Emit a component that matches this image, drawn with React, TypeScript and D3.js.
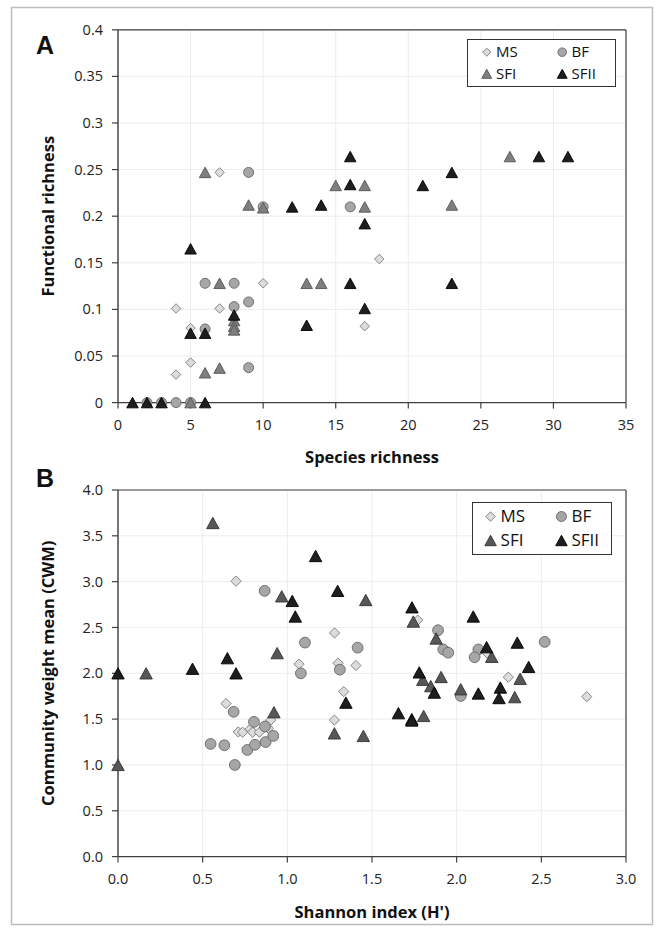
import React from "react";
import * as d3 from "d3";

// ---------- Panel A data (Species richness vs Functional richness) ----------
const msA_x = [4, 4, 5, 5, 5, 7, 7, 10, 17, 18];
const msA_y = [0.101, 0.030, 0.080, 0.043, 0, 0.247, 0.101, 0.128, 0.082, 0.154];

const bfA_x = [2, 3, 4, 5, 6, 6, 8, 8, 9, 9, 9, 10, 16];
const bfA_y = [0, 0, 0, 0, 0.079, 0.128, 0.128, 0.103, 0.108, 0.247, 0.0375, 0.21, 0.21];

const sfiA_x = [5, 6, 7, 6, 7, 8, 8, 8, 9, 10, 13, 14, 15, 17, 17, 23, 27];
const sfiA_y = [0, 0.032, 0.037, 0.247, 0.128, 0.088, 0.082, 0.078, 0.212, 0.209, 0.128, 0.128, 0.233, 0.233, 0.21, 0.212, 0.264];

const sfiiA_x = [1, 2, 3, 6, 5, 5, 6, 8, 12, 13, 14, 16, 16, 16, 17, 17, 21, 23, 23, 29, 31];
const sfiiA_y = [0, 0, 0, 0, 0.165, 0.0745, 0.0745, 0.094, 0.21, 0.083, 0.212, 0.264, 0.234, 0.128, 0.192, 0.101, 0.233, 0.247, 0.128, 0.264, 0.264];

// ---------- Panel B data (Shannon index vs CWM) ----------
const msB_x = [0.697, 1.279, 1.069, 1.30, 1.405, 1.333, 0.638, 0.902, 1.278, 0.71, 0.736, 0.78, 0.795, 0.835, 0.888, 1.77, 2.305, 2.768, 2.18];
const msB_y = [3.005, 2.44, 2.10, 2.11, 2.085, 1.80, 1.67, 1.49, 1.49, 1.36, 1.357, 1.39, 1.357, 1.357, 1.40, 2.58, 1.957, 1.745, 2.22];

const bfB_x = [0.866, 1.104, 1.415, 1.08, 1.31, 0.683, 0.803, 0.868, 0.547, 0.628, 0.764, 0.809, 0.872, 0.917, 0.69, 1.89, 1.921, 1.95, 2.128, 2.106, 2.52, 2.024];
const bfB_y = [2.90, 2.335, 2.28, 2.00, 2.04, 1.58, 1.47, 1.42, 1.23, 1.215, 1.164, 1.22, 1.25, 1.317, 1.0, 2.47, 2.26, 2.225, 2.26, 2.175, 2.343, 1.753];

const sfiB_x = [0.56, 0.967, 0.94, 0.166, 0, 0.921, 1.278, 1.449, 1.463, 1.744, 1.879, 2.207, 2.375, 2.343, 2.024, 1.80, 1.908, 1.847, 1.805];
const sfiB_y = [3.64, 2.84, 2.22, 2.0, 1.0, 1.575, 1.345, 1.317, 2.80, 2.565, 2.38, 2.18, 1.94, 1.74, 1.826, 1.93, 1.96, 1.86, 1.535];

const sfiiB_x = [1.167, 1.029, 1.047, 1.297, 0.646, 0, 0.44, 0.697, 1.346, 1.736, 2.098, 2.177, 2.358, 2.425, 2.258, 2.25, 2.128, 1.779, 1.868, 1.656, 1.735, 1.735];
const sfiiB_y = [3.28, 2.79, 2.62, 2.90, 2.165, 2.0, 2.05, 2.0, 1.68, 2.72, 2.62, 2.285, 2.335, 2.07, 1.845, 1.73, 1.78, 2.01, 1.79, 1.565, 1.50, 1.485];

const ticksA_x = [0, 5, 10, 15, 20, 25, 30, 35];
const ticksA_y = [0, 0.05, 0.1, 0.15, 0.2, 0.25, 0.3, 0.35, 0.4];
const ticksB_x = [0, 0.5, 1.0, 1.5, 2.0, 2.5, 3.0];
const ticksB_y = [0, 0.5, 1.0, 1.5, 2.0, 2.5, 3.0, 3.5, 4.0];

const seriesNames = ["MS", "BF", "SFI", "SFII"];

const FONT = "'Open Sans', 'Noto Sans', sans-serif";

type Style = { fill: string; stroke: string };
const styleA: Record<string, Style> = {
  MS: { fill: "#dcdcdc", stroke: "#7a7a7a" },
  BF: { fill: "#a6a6a6", stroke: "#666666" },
  SFI: { fill: "#7f7f7f", stroke: "#555555" },
  SFII: { fill: "#1e1e1e", stroke: "#000000" },
};
const styleB: Record<string, Style> = {
  MS: { fill: "#dcdcdc", stroke: "#7a7a7a" },
  BF: { fill: "#a6a6a6", stroke: "#666666" },
  SFI: { fill: "#575757", stroke: "#333333" },
  SFII: { fill: "#1e1e1e", stroke: "#000000" },
};

function Marker({ kind, cx, cy, s, st }: { kind: string; cx: number; cy: number; s: number; st: Style }) {
  if (kind === "MS") {
    const h = s * 0.95;
    return <path d={`M${cx},${cy - h}L${cx + h},${cy}L${cx},${cy + h}L${cx - h},${cy}Z`} fill={st.fill} stroke={st.stroke} strokeWidth={0.9} />;
  }
  if (kind === "BF") {
    return <circle cx={cx} cy={cy} r={s} fill={st.fill} stroke={st.stroke} strokeWidth={0.9} />;
  }
  const w = s * 1.15;
  const h = s * 1.05;
  return <path d={`M${cx},${cy - h}L${cx + w},${cy + h}L${cx - w},${cy + h}Z`} fill={st.fill} stroke={st.stroke} strokeWidth={0.9} />;
}

type PanelProps = {
  letter: string;
  letterY: number;
  xDomain: [number, number];
  yDomain: [number, number];
  top: number;
  bottom: number;
  xTicks: number[];
  yTicks: number[];
  yFmt: (v: number) => string;
  xFmt: (v: number) => string;
  xTitle: string;
  yTitle: string;
  xTitleY: number;
  data: { name: string; xs: number[]; ys: number[] }[];
  styles: Record<string, Style>;
  msize: number;
  legend: { x: number; y: number; w: number; h: number; fs: number; ms: number };
};

function Panel(p: PanelProps) {
  const left = 118;
  const right = 626;
  const x = d3.scaleLinear().domain(p.xDomain).range([left, right]);
  const y = d3.scaleLinear().domain(p.yDomain).range([p.bottom, p.top]);
  const grid = "#ececec";
  const axis = "#404040";
  const lg = p.legend;
  const row1 = lg.y + lg.h * 0.27;
  const row2 = lg.y + lg.h * 0.73;
  const col1 = lg.x + lg.w * 0.13;
  const col2 = lg.x + lg.w * 0.64;
  const legendItems = [
    { name: "MS", cx: col1, cy: row1 },
    { name: "BF", cx: col2, cy: row1 },
    { name: "SFI", cx: col1, cy: row2 },
    { name: "SFII", cx: col2, cy: row2 },
  ];
  return (
    <g>
      <text x={36} y={p.letterY} fontFamily="Arial, 'Liberation Sans', sans-serif" fontWeight="bold" fontSize={25} fill="#111">{p.letter}</text>
      {p.xTicks.map((t) => (
        <line key={"gx" + t} x1={x(t)} x2={x(t)} y1={p.top} y2={p.bottom} stroke={grid} strokeWidth={1} />
      ))}
      {p.yTicks.map((t) => (
        <line key={"gy" + t} x1={left} x2={right} y1={y(t)} y2={y(t)} stroke={grid} strokeWidth={1} />
      ))}
      <line x1={left} x2={right} y1={p.top} y2={p.top} stroke={axis} strokeWidth={1.2} />
      <line x1={right} x2={right} y1={p.top} y2={p.bottom} stroke={axis} strokeWidth={1.2} />
      <line x1={left} x2={left} y1={p.top} y2={p.bottom} stroke={axis} strokeWidth={1.4} />
      <line x1={left} x2={right} y1={p.bottom} y2={p.bottom} stroke={axis} strokeWidth={1.4} />
      {p.yTicks.map((t) => (
        <g key={"ty" + t}>
          <line x1={left - 6} x2={left} y1={y(t)} y2={y(t)} stroke={axis} strokeWidth={1.2} />
          <text x={left - 15} y={y(t)} dy="0.35em" textAnchor="end" fontFamily={FONT} fontSize={14.5} fill="#222">{p.yFmt(t)}</text>
        </g>
      ))}
      {p.xTicks.map((t) => (
        <g key={"tx" + t}>
          <line x1={x(t)} x2={x(t)} y1={p.bottom} y2={p.bottom + 6} stroke={axis} strokeWidth={1.2} />
          <text x={x(t)} y={p.bottom + 22} dy="0.35em" textAnchor="middle" fontFamily={FONT} fontSize={14.5} fill="#222">{p.xFmt(t)}</text>
        </g>
      ))}
      <text x={(left + right) / 2} y={p.xTitleY} dy="0.35em" textAnchor="middle" fontFamily={FONT} fontWeight="bold" fontSize={16.5} fill="#111">{p.xTitle}</text>
      <text transform={`translate(48,${(p.top + p.bottom) / 2}) rotate(-90)`} dy="0.35em" textAnchor="middle" fontFamily={FONT} fontWeight="bold" fontSize={16.5} fill="#111">{p.yTitle}</text>
      {p.data.map((s) => (
        <g key={s.name}>
          {s.xs.map((xv, i) => (
            <Marker key={i} kind={s.name} cx={x(xv)} cy={y(s.ys[i])} s={p.msize} st={p.styles[s.name]} />
          ))}
        </g>
      ))}
      <rect x={lg.x} y={lg.y} width={lg.w} height={lg.h} fill="#fff" stroke="#333" strokeWidth={1} />
      {legendItems.map((it) => (
        <g key={"lg" + it.name}>
          <Marker kind={it.name} cx={it.cx} cy={it.cy} s={lg.ms} st={p.styles[it.name]} />
          <text x={it.cx + lg.ms + 5} y={it.cy} dy="0.35em" fontFamily={FONT} fontSize={lg.fs} fill="#111">{it.name}</text>
        </g>
      ))}
    </g>
  );
}

export default function App() {
  const dataA = [
    { name: seriesNames[0], xs: msA_x, ys: msA_y },
    { name: seriesNames[1], xs: bfA_x, ys: bfA_y },
    { name: seriesNames[2], xs: sfiA_x, ys: sfiA_y },
    { name: seriesNames[3], xs: sfiiA_x, ys: sfiiA_y },
  ];
  const dataB = [
    { name: seriesNames[0], xs: msB_x, ys: msB_y },
    { name: seriesNames[1], xs: bfB_x, ys: bfB_y },
    { name: seriesNames[2], xs: sfiB_x, ys: sfiB_y },
    { name: seriesNames[3], xs: sfiiB_x, ys: sfiiB_y },
  ];
  const fmtA = (v: number) => d3.format("")(+v.toFixed(2));
  const fmtB = (v: number) => d3.format(".1f")(v);
  return (
    <div style={{ position: "absolute", left: 0, top: 0 }}>
      <svg width={663} height={928} style={{ display: "block" }}>
        <rect x={0} y={0} width={663} height={928} fill="#fff" />
        <rect x={11.5} y={7.5} width={641} height={917} fill="none" stroke="#bdbdbd" strokeWidth={1.5} />
        <Panel
          letter="A"
          letterY={54}
          xDomain={[0, 35]}
          yDomain={[0, 0.4]}
          top={29.8}
          bottom={402.6}
          xTicks={ticksA_x}
          yTicks={ticksA_y}
          yFmt={fmtA}
          xFmt={(v) => String(v)}
          xTitle="Species richness"
          yTitle="Functional richness"
          xTitleY={457}
          data={dataA}
          styles={styleA}
          msize={5}
          legend={{ x: 467.5, y: 39.5, w: 148, h: 47, fs: 15, ms: 4.3 }}
        />
        <Panel
          letter="B"
          letterY={487}
          xDomain={[0, 3]}
          yDomain={[0, 4]}
          top={490}
          bottom={856.6}
          xTicks={ticksB_x}
          yTicks={ticksB_y}
          yFmt={fmtB}
          xFmt={fmtB}
          xTitle="Shannon index (H')"
          yTitle="Community weight mean (CWM)"
          xTitleY={912}
          data={dataB}
          styles={styleB}
          msize={5.4}
          legend={{ x: 472.5, y: 502.5, w: 139, h: 52, fs: 17, ms: 5 }}
        />
      </svg>
    </div>
  );
}
